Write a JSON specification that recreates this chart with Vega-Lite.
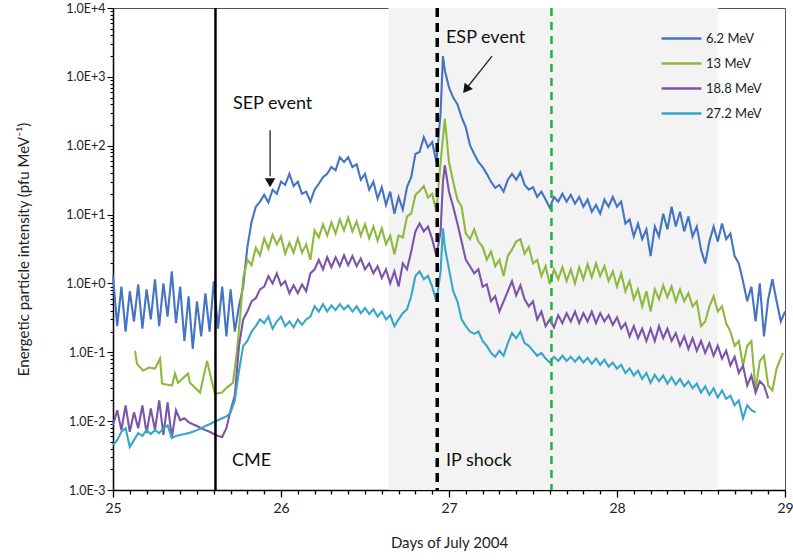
{
"$schema": "https://vega.github.io/schema/vega-lite/v6.json",
"width": 672, "height": 482,
"autosize": {"type": "none"},
"padding": {"left": 113, "top": 8, "right": 8, "bottom": 70},
"background": "white",
"config": {"view": {"stroke": "#555", "strokeWidth": 1}, "font": "Lato"},
"datasets": {
"b": [{"t":25,"v":1.3},{"t":25.025,"v":0.24},{"t":25.05,"v":0.9},{"t":25.075,"v":0.2},{"t":25.1,"v":0.77},{"t":25.125,"v":0.28},{"t":25.15,"v":0.97},{"t":25.175,"v":0.22},{"t":25.2,"v":0.82},{"t":25.225,"v":0.3},{"t":25.25,"v":1.15},{"t":25.275,"v":0.24},{"t":25.3,"v":1.0},{"t":25.325,"v":0.33},{"t":25.35,"v":1.5},{"t":25.375,"v":0.265},{"t":25.4,"v":0.9},{"t":25.425,"v":0.146},{"t":25.45,"v":0.65},{"t":25.475,"v":0.112},{"t":25.5,"v":0.55},{"t":25.525,"v":0.17},{"t":25.55,"v":0.72},{"t":25.575,"v":0.2},{"t":25.6,"v":1.07},{"t":25.625,"v":0.22},{"t":25.65,"v":0.9},{"t":25.675,"v":0.17},{"t":25.7,"v":0.82},{"t":25.725,"v":0.2},{"t":25.75,"v":0.47},{"t":25.775,"v":0.9},{"t":25.8,"v":3.4},{"t":25.825,"v":7.9},{"t":25.85,"v":13},{"t":25.875,"v":15.4},{"t":25.9,"v":19.3},{"t":25.925,"v":15},{"t":25.95,"v":22.9},{"t":25.975,"v":20},{"t":26,"v":30},{"t":26.025,"v":27},{"t":26.05,"v":39},{"t":26.075,"v":26},{"t":26.1,"v":30},{"t":26.125,"v":20},{"t":26.15,"v":21.5},{"t":26.175,"v":15.4},{"t":26.2,"v":23},{"t":26.225,"v":28},{"t":26.25,"v":35},{"t":26.275,"v":39},{"t":26.3,"v":49},{"t":26.325,"v":44},{"t":26.35,"v":68},{"t":26.375,"v":58},{"t":26.4,"v":68},{"t":26.425,"v":49},{"t":26.45,"v":54},{"t":26.475,"v":32},{"t":26.5,"v":39},{"t":26.525,"v":23},{"t":26.55,"v":30},{"t":26.575,"v":17},{"t":26.6,"v":25},{"t":26.625,"v":13.8},{"t":26.65,"v":21.5},{"t":26.675,"v":10.3},{"t":26.7,"v":18},{"t":26.725,"v":11.8},{"t":26.75,"v":25},{"t":26.775,"v":35},{"t":26.8,"v":76},{"t":26.825,"v":81},{"t":26.85,"v":133},{"t":26.875,"v":95},{"t":26.9,"v":113},{"t":26.925,"v":58},{"t":26.95,"v":300},{"t":26.964,"v":2000},{"t":26.975,"v":1250},{"t":27,"v":700},{"t":27.025,"v":500},{"t":27.05,"v":400},{"t":27.075,"v":260},{"t":27.1,"v":185},{"t":27.125,"v":102},{"t":27.15,"v":76},{"t":27.175,"v":58},{"t":27.2,"v":49},{"t":27.225,"v":39},{"t":27.25,"v":30},{"t":27.275,"v":24.5},{"t":27.3,"v":27},{"t":27.325,"v":21.5},{"t":27.35,"v":32},{"t":27.375,"v":39},{"t":27.4,"v":32},{"t":27.425,"v":41},{"t":27.45,"v":27},{"t":27.475,"v":23},{"t":27.5,"v":25},{"t":27.525,"v":18},{"t":27.55,"v":21.5},{"t":27.575,"v":16.5},{"t":27.6,"v":12.6},{"t":27.625,"v":18},{"t":27.65,"v":15.4},{"t":27.675,"v":20},{"t":27.7,"v":15.4},{"t":27.725,"v":19.3},{"t":27.75,"v":14.4},{"t":27.775,"v":18},{"t":27.8,"v":13},{"t":27.825,"v":16.5},{"t":27.85,"v":11},{"t":27.875,"v":13.8},{"t":27.9,"v":10.3},{"t":27.925,"v":16.5},{"t":27.95,"v":13},{"t":27.975,"v":18},{"t":28,"v":13},{"t":28.025,"v":15.4},{"t":28.05,"v":7.4},{"t":28.075,"v":8.5},{"t":28.1,"v":4.8},{"t":28.125,"v":7.4},{"t":28.15,"v":4.4},{"t":28.175,"v":6.1},{"t":28.2,"v":2.5},{"t":28.225,"v":6.7},{"t":28.25,"v":4.8},{"t":28.275,"v":10.3},{"t":28.3,"v":6.1},{"t":28.325,"v":13},{"t":28.35,"v":6.7},{"t":28.375,"v":11},{"t":28.4,"v":5.7},{"t":28.425,"v":9.4},{"t":28.45,"v":4.8},{"t":28.475,"v":6.7},{"t":28.5,"v":3.1},{"t":28.525,"v":1.95},{"t":28.55,"v":4.05},{"t":28.575,"v":6.7},{"t":28.6,"v":4.05},{"t":28.625,"v":7.4},{"t":28.65,"v":4.4},{"t":28.675,"v":5.3},{"t":28.7,"v":2.5},{"t":28.725,"v":1.95},{"t":28.75,"v":1.08},{"t":28.775,"v":0.55},{"t":28.8,"v":0.9},{"t":28.825,"v":0.28},{"t":28.85,"v":1.0},{"t":28.875,"v":0.17},{"t":28.9,"v":0.59},{"t":28.925,"v":1.15},{"t":28.95,"v":0.55},{"t":28.975,"v":0.28},{"t":29,"v":0.39}],
"g": [{"t":25.131,"v":0.105},{"t":25.143,"v":0.068},{"t":25.179,"v":0.054},{"t":25.214,"v":0.06},{"t":25.25,"v":0.058},{"t":25.28,"v":0.081},{"t":25.292,"v":0.035},{"t":25.351,"v":0.033},{"t":25.369,"v":0.049},{"t":25.387,"v":0.036},{"t":25.446,"v":0.049},{"t":25.458,"v":0.036},{"t":25.518,"v":0.026},{"t":25.56,"v":0.075},{"t":25.577,"v":0.049},{"t":25.607,"v":0.025},{"t":25.649,"v":0.026},{"t":25.679,"v":0.031},{"t":25.714,"v":0.036},{"t":25.738,"v":0.105},{"t":25.756,"v":0.313},{"t":25.775,"v":1.2},{"t":25.8,"v":2.2},{"t":25.825,"v":1.84},{"t":25.85,"v":3.3},{"t":25.875,"v":2.56},{"t":25.9,"v":4.5},{"t":25.925,"v":3.2},{"t":25.95,"v":5.1},{"t":25.975,"v":3.7},{"t":26,"v":4.8},{"t":26.025,"v":2.7},{"t":26.05,"v":3.9},{"t":26.075,"v":2.8},{"t":26.1,"v":4.5},{"t":26.125,"v":2.8},{"t":26.15,"v":3.7},{"t":26.175,"v":2.2},{"t":26.2,"v":5.9},{"t":26.225,"v":4.65},{"t":26.25,"v":7.2},{"t":26.275,"v":4.95},{"t":26.3,"v":7.7},{"t":26.325,"v":5.3},{"t":26.35,"v":8.5},{"t":26.375,"v":5.9},{"t":26.4,"v":9.0},{"t":26.425,"v":5.7},{"t":26.45,"v":7.9},{"t":26.475,"v":4.95},{"t":26.5,"v":7.2},{"t":26.525,"v":4.5},{"t":26.55,"v":6.7},{"t":26.575,"v":4.2},{"t":26.6,"v":6.3},{"t":26.625,"v":3.7},{"t":26.65,"v":4.95},{"t":26.675,"v":2.65},{"t":26.7,"v":4.95},{"t":26.725,"v":4.65},{"t":26.75,"v":9.4},{"t":26.775,"v":10.3},{"t":26.8,"v":19.3},{"t":26.825,"v":22},{"t":26.85,"v":26},{"t":26.875,"v":17.6},{"t":26.9,"v":20},{"t":26.925,"v":11},{"t":26.95,"v":58},{"t":26.964,"v":130},{"t":26.975,"v":245},{"t":27,"v":58},{"t":27.025,"v":30},{"t":27.05,"v":16.5},{"t":27.075,"v":13},{"t":27.1,"v":5.3},{"t":27.125,"v":4.4},{"t":27.15,"v":6.1},{"t":27.175,"v":4.05},{"t":27.2,"v":3.4},{"t":27.225,"v":2.2},{"t":27.25,"v":2.9},{"t":27.275,"v":1.78},{"t":27.3,"v":2.2},{"t":27.325,"v":1.28},{"t":27.35,"v":2.5},{"t":27.375,"v":3.1},{"t":27.4,"v":4.05},{"t":27.425,"v":4.4},{"t":27.45,"v":2.7},{"t":27.475,"v":3.4},{"t":27.5,"v":1.95},{"t":27.525,"v":2.2},{"t":27.55,"v":1.28},{"t":27.575,"v":1.78},{"t":27.6,"v":0.97},{"t":27.625,"v":1.6},{"t":27.65,"v":1.15},{"t":27.675,"v":1.72},{"t":27.7,"v":1.08},{"t":27.725,"v":1.6},{"t":27.75,"v":1.0},{"t":27.775,"v":1.72},{"t":27.8,"v":1.15},{"t":27.825,"v":1.9},{"t":27.85,"v":1.23},{"t":27.875,"v":1.95},{"t":27.9,"v":1.28},{"t":27.925,"v":1.78},{"t":27.95,"v":1.08},{"t":27.975,"v":1.5},{"t":28,"v":0.9},{"t":28.025,"v":1.4},{"t":28.05,"v":0.77},{"t":28.075,"v":1.08},{"t":28.1,"v":0.59},{"t":28.125,"v":0.82},{"t":28.15,"v":0.465},{"t":28.175,"v":0.77},{"t":28.2,"v":0.39},{"t":28.225,"v":0.82},{"t":28.25,"v":0.59},{"t":28.275,"v":0.94},{"t":28.3,"v":0.63},{"t":28.325,"v":0.9},{"t":28.35,"v":0.55},{"t":28.375,"v":0.82},{"t":28.4,"v":0.55},{"t":28.425,"v":0.72},{"t":28.45,"v":0.465},{"t":28.475,"v":0.55},{"t":28.5,"v":0.24},{"t":28.525,"v":0.28},{"t":28.55,"v":0.465},{"t":28.575,"v":0.65},{"t":28.6,"v":0.39},{"t":28.625,"v":0.465},{"t":28.65,"v":0.265},{"t":28.675,"v":0.2},{"t":28.7,"v":0.124},{"t":28.725,"v":0.146},{"t":28.75,"v":0.064},{"t":28.775,"v":0.124},{"t":28.8,"v":0.146},{"t":28.825,"v":0.028},{"t":28.85,"v":0.075},{"t":28.875,"v":0.089},{"t":28.9,"v":0.033},{"t":28.925,"v":0.028},{"t":28.95,"v":0.058},{"t":28.975,"v":0.083},{"t":28.988,"v":0.098}],
"p": [{"t":25,"v":0.0087},{"t":25.025,"v":0.0144},{"t":25.05,"v":0.0074},{"t":25.075,"v":0.0169},{"t":25.1,"v":0.007},{"t":25.125,"v":0.0134},{"t":25.15,"v":0.0079},{"t":25.175,"v":0.0169},{"t":25.2,"v":0.0067},{"t":25.225,"v":0.0153},{"t":25.25,"v":0.0074},{"t":25.275,"v":0.02},{"t":25.3,"v":0.0063},{"t":25.325,"v":0.0187},{"t":25.35,"v":0.0057},{"t":25.375,"v":0.0144},{"t":25.4,"v":0.0103},{"t":25.425,"v":0.011},{"t":25.45,"v":0.0097},{"t":25.475,"v":0.009},{"t":25.5,"v":0.0085},{"t":25.525,"v":0.0079},{"t":25.55,"v":0.0074},{"t":25.575,"v":0.007},{"t":25.6,"v":0.0065},{"t":25.625,"v":0.0061},{"t":25.65,"v":0.0059},{"t":25.675,"v":0.0079},{"t":25.7,"v":0.0144},{"t":25.725,"v":0.0235},{"t":25.75,"v":0.124},{"t":25.775,"v":0.3},{"t":25.8,"v":0.39},{"t":25.825,"v":0.55},{"t":25.85,"v":0.61},{"t":25.875,"v":0.82},{"t":25.9,"v":0.9},{"t":25.925,"v":1.28},{"t":25.95,"v":1.0},{"t":25.975,"v":1.4},{"t":26,"v":0.94},{"t":26.025,"v":1.08},{"t":26.05,"v":0.72},{"t":26.075,"v":0.94},{"t":26.1,"v":0.72},{"t":26.125,"v":0.97},{"t":26.15,"v":0.77},{"t":26.175,"v":1.4},{"t":26.2,"v":1.6},{"t":26.225,"v":2.2},{"t":26.25,"v":1.6},{"t":26.275,"v":2.4},{"t":26.3,"v":1.72},{"t":26.325,"v":2.4},{"t":26.35,"v":1.78},{"t":26.375,"v":2.56},{"t":26.4,"v":1.84},{"t":26.425,"v":2.5},{"t":26.45,"v":1.78},{"t":26.475,"v":2.3},{"t":26.5,"v":1.6},{"t":26.525,"v":1.95},{"t":26.55,"v":1.4},{"t":26.575,"v":1.78},{"t":26.6,"v":1.2},{"t":26.625,"v":1.6},{"t":26.65,"v":1.0},{"t":26.675,"v":1.5},{"t":26.7,"v":0.9},{"t":26.725,"v":1.95},{"t":26.75,"v":1.6},{"t":26.775,"v":2.9},{"t":26.8,"v":5.7},{"t":26.825,"v":7.4},{"t":26.85,"v":5.7},{"t":26.875,"v":6.7},{"t":26.9,"v":4.4},{"t":26.925,"v":2.5},{"t":26.95,"v":5.7},{"t":26.964,"v":30},{"t":26.975,"v":52},{"t":27,"v":21.5},{"t":27.025,"v":13},{"t":27.05,"v":7.4},{"t":27.075,"v":4.05},{"t":27.1,"v":2.2},{"t":27.125,"v":1.78},{"t":27.15,"v":1.4},{"t":27.175,"v":1.6},{"t":27.2,"v":0.9},{"t":27.225,"v":0.97},{"t":27.25,"v":0.55},{"t":27.275,"v":0.65},{"t":27.3,"v":0.39},{"t":27.325,"v":0.55},{"t":27.35,"v":0.77},{"t":27.375,"v":1.08},{"t":27.4,"v":0.67},{"t":27.425,"v":0.94},{"t":27.45,"v":0.59},{"t":27.475,"v":0.465},{"t":27.5,"v":0.55},{"t":27.525,"v":0.3},{"t":27.55,"v":0.39},{"t":27.575,"v":0.24},{"t":27.6,"v":0.3},{"t":27.625,"v":0.23},{"t":27.65,"v":0.345},{"t":27.675,"v":0.265},{"t":27.7,"v":0.37},{"t":27.725,"v":0.28},{"t":27.75,"v":0.39},{"t":27.775,"v":0.265},{"t":27.8,"v":0.37},{"t":27.825,"v":0.28},{"t":27.85,"v":0.39},{"t":27.875,"v":0.265},{"t":27.9,"v":0.37},{"t":27.925,"v":0.28},{"t":27.95,"v":0.345},{"t":27.975,"v":0.25},{"t":28,"v":0.32},{"t":28.025,"v":0.22},{"t":28.05,"v":0.265},{"t":28.075,"v":0.17},{"t":28.1,"v":0.24},{"t":28.125,"v":0.16},{"t":28.15,"v":0.22},{"t":28.175,"v":0.146},{"t":28.2,"v":0.22},{"t":28.225,"v":0.146},{"t":28.25,"v":0.24},{"t":28.275,"v":0.16},{"t":28.3,"v":0.22},{"t":28.325,"v":0.146},{"t":28.35,"v":0.19},{"t":28.375,"v":0.124},{"t":28.4,"v":0.17},{"t":28.425,"v":0.112},{"t":28.45,"v":0.16},{"t":28.475,"v":0.105},{"t":28.5,"v":0.146},{"t":28.525,"v":0.098},{"t":28.55,"v":0.136},{"t":28.575,"v":0.089},{"t":28.6,"v":0.124},{"t":28.625,"v":0.081},{"t":28.65,"v":0.105},{"t":28.675,"v":0.064},{"t":28.7,"v":0.086},{"t":28.725,"v":0.05},{"t":28.75,"v":0.064},{"t":28.775,"v":0.033},{"t":28.8,"v":0.046},{"t":28.825,"v":0.026},{"t":28.85,"v":0.038},{"t":28.875,"v":0.033},{"t":28.9,"v":0.0214}],
"c": [{"t":25,"v":0.0045},{"t":25.025,"v":0.0053},{"t":25.05,"v":0.007},{"t":25.075,"v":0.0079},{"t":25.1,"v":0.0042},{"t":25.125,"v":0.0053},{"t":25.15,"v":0.0067},{"t":25.175,"v":0.0061},{"t":25.2,"v":0.0074},{"t":25.225,"v":0.0065},{"t":25.25,"v":0.0074},{"t":25.275,"v":0.0067},{"t":25.3,"v":0.0079},{"t":25.325,"v":0.0087},{"t":25.35,"v":0.0057},{"t":25.375,"v":0.0061},{"t":25.4,"v":0.0063},{"t":25.425,"v":0.0065},{"t":25.45,"v":0.0067},{"t":25.475,"v":0.007},{"t":25.5,"v":0.0074},{"t":25.525,"v":0.0079},{"t":25.55,"v":0.0085},{"t":25.575,"v":0.009},{"t":25.6,"v":0.0097},{"t":25.625,"v":0.0103},{"t":25.65,"v":0.011},{"t":25.675,"v":0.0117},{"t":25.7,"v":0.0134},{"t":25.725,"v":0.02},{"t":25.75,"v":0.054},{"t":25.775,"v":0.124},{"t":25.8,"v":0.146},{"t":25.825,"v":0.2},{"t":25.85,"v":0.24},{"t":25.875,"v":0.3},{"t":25.9,"v":0.265},{"t":25.925,"v":0.33},{"t":25.95,"v":0.22},{"t":25.975,"v":0.28},{"t":26,"v":0.33},{"t":26.025,"v":0.24},{"t":26.05,"v":0.28},{"t":26.075,"v":0.23},{"t":26.1,"v":0.3},{"t":26.125,"v":0.25},{"t":26.15,"v":0.3},{"t":26.175,"v":0.33},{"t":26.2,"v":0.465},{"t":26.225,"v":0.39},{"t":26.25,"v":0.5},{"t":26.275,"v":0.39},{"t":26.3,"v":0.48},{"t":26.325,"v":0.41},{"t":26.35,"v":0.5},{"t":26.375,"v":0.42},{"t":26.4,"v":0.48},{"t":26.425,"v":0.39},{"t":26.45,"v":0.465},{"t":26.475,"v":0.37},{"t":26.5,"v":0.44},{"t":26.525,"v":0.36},{"t":26.55,"v":0.42},{"t":26.575,"v":0.33},{"t":26.6,"v":0.39},{"t":26.625,"v":0.3},{"t":26.65,"v":0.345},{"t":26.675,"v":0.24},{"t":26.7,"v":0.3},{"t":26.725,"v":0.37},{"t":26.75,"v":0.42},{"t":26.775,"v":0.65},{"t":26.8,"v":1.28},{"t":26.825,"v":1.5},{"t":26.85,"v":1.15},{"t":26.875,"v":1.28},{"t":26.9,"v":0.9},{"t":26.925,"v":0.55},{"t":26.95,"v":1.5},{"t":26.964,"v":6.3},{"t":26.975,"v":3.4},{"t":27,"v":1.6},{"t":27.025,"v":0.77},{"t":27.05,"v":0.55},{"t":27.075,"v":0.3},{"t":27.1,"v":0.24},{"t":27.125,"v":0.2},{"t":27.15,"v":0.185},{"t":27.175,"v":0.2},{"t":27.2,"v":0.146},{"t":27.225,"v":0.124},{"t":27.25,"v":0.098},{"t":27.275,"v":0.086},{"t":27.3,"v":0.105},{"t":27.325,"v":0.089},{"t":27.35,"v":0.136},{"t":27.375,"v":0.19},{"t":27.4,"v":0.16},{"t":27.425,"v":0.2},{"t":27.45,"v":0.136},{"t":27.475,"v":0.124},{"t":27.5,"v":0.105},{"t":27.525,"v":0.089},{"t":27.55,"v":0.098},{"t":27.575,"v":0.081},{"t":27.6,"v":0.071},{"t":27.625,"v":0.086},{"t":27.65,"v":0.075},{"t":27.675,"v":0.089},{"t":27.7,"v":0.075},{"t":27.725,"v":0.086},{"t":27.75,"v":0.073},{"t":27.775,"v":0.086},{"t":27.8,"v":0.071},{"t":27.825,"v":0.083},{"t":27.85,"v":0.068},{"t":27.875,"v":0.081},{"t":27.9,"v":0.066},{"t":27.925,"v":0.078},{"t":27.95,"v":0.062},{"t":27.975,"v":0.071},{"t":28,"v":0.058},{"t":28.025,"v":0.066},{"t":28.05,"v":0.05},{"t":28.075,"v":0.058},{"t":28.1,"v":0.046},{"t":28.125,"v":0.054},{"t":28.15,"v":0.041},{"t":28.175,"v":0.05},{"t":28.2,"v":0.036},{"t":28.225,"v":0.047},{"t":28.25,"v":0.038},{"t":28.275,"v":0.046},{"t":28.3,"v":0.035},{"t":28.325,"v":0.043},{"t":28.35,"v":0.034},{"t":28.375,"v":0.041},{"t":28.4,"v":0.032},{"t":28.425,"v":0.038},{"t":28.45,"v":0.03},{"t":28.475,"v":0.035},{"t":28.5,"v":0.026},{"t":28.525,"v":0.032},{"t":28.55,"v":0.024},{"t":28.575,"v":0.03},{"t":28.6,"v":0.022},{"t":28.625,"v":0.028},{"t":28.65,"v":0.021},{"t":28.675,"v":0.0235},{"t":28.7,"v":0.017},{"t":28.725,"v":0.02},{"t":28.75,"v":0.011},{"t":28.775,"v":0.017},{"t":28.8,"v":0.0144},{"t":28.825,"v":0.0134}]
},
"layer": [
{"data": {"values": [{"t": 26.64, "t2": 28.6}]},
 "mark": {"type": "rect", "color": "#f3f3f3"},
 "encoding": {"x": {"field": "t", "type": "quantitative", "scale": {"domain": [25, 29], "nice": false}}, "x2": {"field": "t2"}}},
{"data": {"name": "b"},
 "mark": {"type": "line", "strokeWidth": 2.1},
 "encoding": {
  "x": {"field": "t", "type": "quantitative", "scale": {"domain": [25, 29], "nice": false},
   "axis": {"values": [25,25.1,25.2,25.3,25.4,25.5,25.6,25.7,25.8,25.9,26,26.1,26.2,26.3,26.4,26.5,26.6,26.7,26.8,26.9,27,27.1,27.2,27.3,27.4,27.5,27.6,27.7,27.8,27.9,28,28.1,28.2,28.3,28.4,28.5,28.6,28.7,28.8,28.9,29],
    "tickCount": 1000,
    "labelExpr": "abs(datum.value - round(datum.value)) < 0.001 ? format(datum.value, 'd') : ''",
    "labelOverlap": false, "labelFlush": false, "labelBound": false,
    "title": "Days of July 2004", "titleFont": "Lato", "titleFontSize": 15, "titleFontWeight": "normal", "titleColor": "#222", "titlePadding": 20,
    "labelFont": "Lato", "labelFontSize": 14, "labelColor": "#222", "labelPadding": 4,
    "domainColor": "black", "domainWidth": 1.5, "tickColor": "black", "tickWidth": 1.3,
    "tickSize": {"condition": {"test": "abs(datum.value - round(datum.value)) < 0.001", "value": 7}, "value": 4},
    "grid": false}},
  "y": {"field": "v", "type": "quantitative", "scale": {"type": "log", "domain": [0.001, 10000], "nice": false},
   "axis": {"values": [0.001,0.002,0.003,0.004,0.005,0.006,0.007,0.008,0.009,0.01,0.02,0.03,0.04,0.05,0.06,0.07,0.08,0.09,0.1,0.2,0.3,0.4,0.5,0.6,0.7,0.8,0.9,1,2,3,4,5,6,7,8,9,10,20,30,40,50,60,70,80,90,100,200,300,400,500,600,700,800,900,1000,2000,3000,4000,5000,6000,7000,8000,9000,10000],
    "tickCount": 1000,
    "labelExpr": "abs(log(datum.value)/LN10 - round(log(datum.value)/LN10)) < 0.001 ? '1.0E' + (datum.value >= 1 ? '+' : '') + round(log(datum.value)/LN10) : ''",
    "labelOverlap": false, "labelBound": false, "labelFlush": false,
    "title": "Energetic particle intensity (pfu MeV⁻¹)", "titleFont": "Lato", "titleFontSize": 15, "titleFontWeight": "normal", "titleColor": "#222", "titlePadding": 34,
    "labelFont": "Lato", "labelFontSize": 12.5, "labelColor": "#222", "labelPadding": 2,
    "domainColor": "black", "domainWidth": 1.5, "tickColor": "black", "tickWidth": 1.1,
    "tickSize": {"condition": {"test": "abs(log(datum.value)/LN10 - round(log(datum.value)/LN10)) < 0.001", "value": 6}, "value": 3},
    "grid": false}},
  "color": {"datum": "6.2 MeV",
   "scale": {"domain": ["6.2 MeV", "13  MeV", "18.8 MeV", "27.2 MeV"], "range": ["#4474c2", "#8db93f", "#7b55a7", "#38a6c8"]},
   "legend": {"orient": "none", "legendX": 552, "legendY": 14, "title": null, "padding": 0,
    "symbolType": "M-1.33,0H1.33", "symbolSize": 900, "symbolStrokeWidth": 2.5,
    "labelFont": "Lato", "labelFontSize": 13, "labelColor": "#222", "labelOffset": 8, "rowPadding": 1}}}},
{"data": {"name": "g"},
 "mark": {"type": "line", "strokeWidth": 2.1},
 "encoding": {"x": {"field": "t", "type": "quantitative"}, "y": {"field": "v", "type": "quantitative"}, "color": {"datum": "13  MeV"}}},
{"data": {"name": "p"},
 "mark": {"type": "line", "strokeWidth": 2.1},
 "encoding": {"x": {"field": "t", "type": "quantitative"}, "y": {"field": "v", "type": "quantitative"}, "color": {"datum": "18.8 MeV"}}},
{"data": {"name": "c"},
 "mark": {"type": "line", "strokeWidth": 2.1},
 "encoding": {"x": {"field": "t", "type": "quantitative"}, "y": {"field": "v", "type": "quantitative"}, "color": {"datum": "27.2 MeV"}}},
{"data": {"values": [{"t": 25.61}]},
 "mark": {"type": "rule", "color": "black", "strokeWidth": 2.5},
 "encoding": {"x": {"field": "t", "type": "quantitative"}}},
{"data": {"values": [{"t": 26.93}]},
 "mark": {"type": "rule", "color": "black", "strokeWidth": 3.5, "strokeDash": [9, 6]},
 "encoding": {"x": {"field": "t", "type": "quantitative"}}},
{"data": {"values": [{"t": 27.61}]},
 "mark": {"type": "rule", "color": "#1fb04a", "strokeWidth": 2.5, "strokeDash": [8, 6]},
 "encoding": {"x": {"field": "t", "type": "quantitative"}}},
{"data": {"values": [{"t": 25.935, "v": 168, "t2": 25.935, "v2": 36}, {"t": 27.256, "v": 2000, "t2": 27.113, "v2": 725}]},
 "mark": {"type": "rule", "color": "#222", "strokeWidth": 1.3},
 "encoding": {"x": {"field": "t", "type": "quantitative"}, "y": {"field": "v", "type": "quantitative"}, "x2": {"field": "t2"}, "y2": {"field": "v2"}}},
{"data": {"values": [{"t": 25.935, "v": 29}]},
 "mark": {"type": "point", "shape": "triangle-down", "filled": true, "color": "#111", "size": 110, "opacity": 1},
 "encoding": {"x": {"field": "t", "type": "quantitative"}, "y": {"field": "v", "type": "quantitative"}}},
{"data": {"values": [{"t": 27.101, "v": 656}]},
 "mark": {"type": "point", "shape": "triangle-up", "angle": 217.6, "filled": true, "color": "#111", "size": 110, "opacity": 1},
 "encoding": {"x": {"field": "t", "type": "quantitative"}, "y": {"field": "v", "type": "quantitative"}}},
{"data": {"values": [{"t": 25.708, "v": 0.0026, "label": "CME"}, {"t": 26.982, "v": 0.0026, "label": "IP shock"}, {"t": 25.714, "v": 400, "label": "SEP event"}, {"t": 26.982, "v": 3700, "label": "ESP event"}]},
 "mark": {"type": "text", "align": "left", "baseline": "middle", "font": "Lato", "fontSize": 18, "color": "#111"},
 "encoding": {"x": {"field": "t", "type": "quantitative"}, "y": {"field": "v", "type": "quantitative"}, "text": {"field": "label"}}}
]
}
